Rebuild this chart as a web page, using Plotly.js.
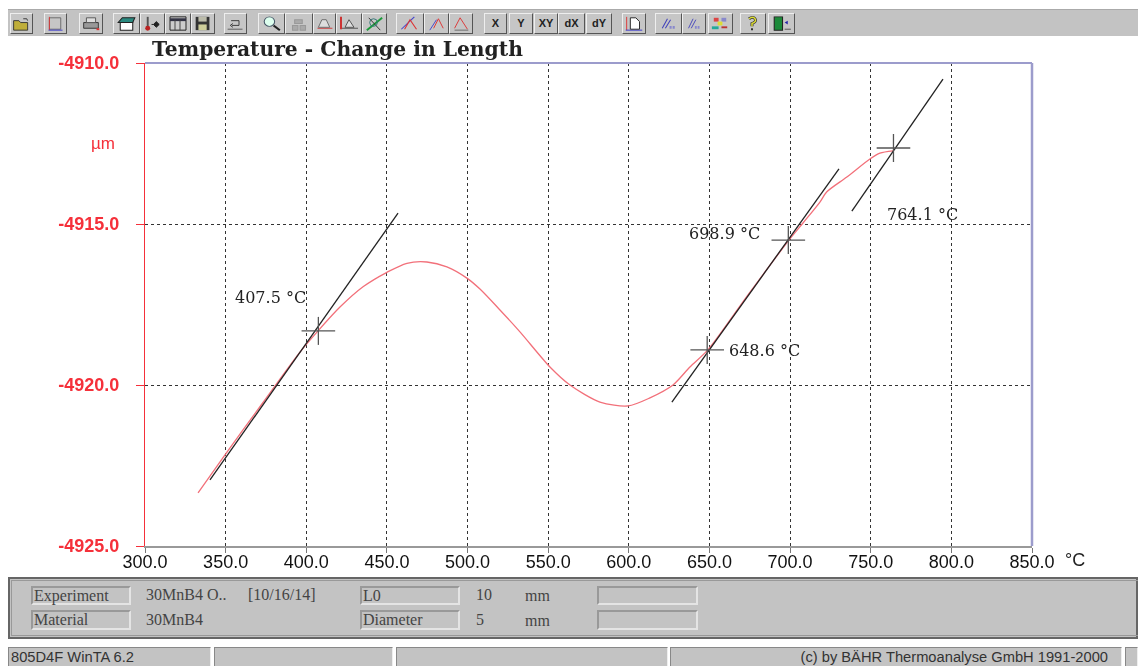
<!DOCTYPE html>
<html><head><meta charset="utf-8">
<script src="https://cdn.plot.ly/plotly-3.0.1.min.js"></script>
<style>
html,body{margin:0;padding:0;background:#fff;width:1138px;height:666px;overflow:hidden}
#wrap{position:absolute;left:0;top:0;width:1138px;height:666px;filter:blur(.6px)}
.abs{position:absolute;box-sizing:border-box}
.btn{position:absolute;top:13px;height:21px;box-sizing:border-box;background:#c6c6c6;border:1px solid;border-color:#eee #555 #555 #eee}
.btn svg{position:absolute;left:0;top:0;width:100%;height:100%}
.well{position:absolute;box-sizing:border-box;border:2px solid;border-color:#999 #e4e4e4 #e4e4e4 #999;background:#c3c3c3;font:16px "Liberation Serif";color:#444;line-height:15px;padding-left:1px;white-space:nowrap}
.t{position:absolute;font:16px "Liberation Serif";color:#444;white-space:nowrap}
.cell{position:absolute;top:647px;height:19px;box-sizing:border-box;background:#c3c3c3;border-top:1px solid #888;border-left:1px solid #888;border-right:1px solid #eee;font:14.7px "Liberation Sans";color:#333;white-space:nowrap;line-height:18px}
#plot{position:absolute;left:0;top:0;width:1138px;height:666px}
</style></head><body>
<div id="wrap">
<div class="abs" style="left:8px;top:9px;width:1130px;height:27px;background:#c3c3c3;border-top:1px solid #aaa"></div>
<div id="tools"></div>
<div class="abs" style="left:8px;top:577px;width:1130px;height:62px;background:#c3c3c3;border:2px solid #666"></div>
<div class="abs" style="left:11px;top:580px;width:1127px;height:56px;border:1px solid #999;border-right:none"></div>
<div class="well" style="left:31px;top:586px;width:100px;height:19px">Experiment</div>
<div class="well" style="left:31px;top:610px;width:100px;height:20px">Material</div>
<div class="t" style="left:146px;top:586px">30MnB4 O..</div>
<div class="t" style="left:248px;top:586px">[10/16/14]</div>
<div class="t" style="left:146px;top:611px">30MnB4</div>
<div class="well" style="left:360px;top:586px;width:100px;height:19px">L0</div>
<div class="well" style="left:360px;top:610px;width:100px;height:20px">Diameter</div>
<div class="t" style="left:476px;top:586px">10</div>
<div class="t" style="left:476px;top:611px">5</div>
<div class="t" style="left:525px;top:587px">mm</div>
<div class="t" style="left:525px;top:612px">mm</div>
<div class="well" style="left:597px;top:586px;width:101px;height:19px"></div>
<div class="well" style="left:597px;top:610px;width:101px;height:20px"></div>
<div class="cell" style="left:8px;width:203px;padding-left:2px">805D4F WinTA 6.2</div>
<div class="cell" style="left:214px;width:179px"></div>
<div class="cell" style="left:396px;width:272px"></div>
<div class="cell" style="left:670px;width:452px;text-align:right;padding-right:13px">(c) by BÄHR Thermoanalyse GmbH 1991-2000</div>
<div class="cell" style="left:1125px;width:13px"></div>
<div id="plot"></div>
</div>
<script>
// ---- chart data ----
var curveT = [332.9,349.6,372.5,396.1,407.3,420.9,435.2,450.0,462.4,474.8,487.2,499.6,507.7,520.1,532.5,551.1,563.5,582.1,599.5,613.1,627.4,637.9,649.0,673.9,699.3,708.0,718.5,722.8,735.2,749.5,755.7,763.9];
var curveL = [-4923.35,-4922.17,-4920.59,-4918.98,-4918.32,-4917.58,-4916.95,-4916.5,-4916.22,-4916.18,-4916.33,-4916.68,-4917.02,-4917.67,-4918.35,-4919.44,-4920.0,-4920.53,-4920.65,-4920.40,-4920.0,-4919.44,-4918.91,-4917.2,-4915.5,-4914.97,-4914.32,-4914.0,-4913.54,-4912.98,-4912.8,-4912.73];
var tangent1T = [340.3,456.9], tangent1L = [-4922.95,-4914.66];
var tangent2T = [626.7,730.3], tangent2L = [-4920.53,-4913.29];
var tangent3T = [738.3,794.8], tangent3L = [-4914.6,-4910.5];
var onsetT = [407.5,648.6,698.9,764.1];
var onsetL = [-4918.32,-4918.91,-4915.5,-4912.64];
var labelT = [378,684.4,659.6,781.8];
var labelL = [-4917.27,-4918.94,-4915.28,-4914.69];
var labelText = ['407.5 °C','648.6 °C','698.9 °C','764.1 °C'];
var xTicks = [300,350,400,450,500,550,600,650,700,750,800,850];
var xTickText = ['300.0','350.0','400.0','450.0','500.0','550.0','600.0','650.0','700.0','750.0','800.0','850.0'];
var yTicks = [-4910,-4915,-4920,-4925];
var yTickText = ['-4910.0','-4915.0','-4920.0','-4925.0'];

// ---- toolbar buttons ----
var I = {
 open:'<path d="M3 7h6l2 2h8v8H3z" fill="#bfae3a" stroke="#333"/><path d="M14 5l4 0 1 2" fill="none" stroke="#333"/>',
 sel:'<path d="M5 4h13v12H5z" fill="none" stroke="#666"/><path d="M5 3v14" stroke="#d33"/><path d="M4 17h16" stroke="#33c"/>',
 print:'<path d="M4 9h16v6H4z" fill="#999" stroke="#333"/><path d="M7 4h10v5H7z" fill="#ddd" stroke="#555"/><path d="M18 16h3" stroke="#d33" stroke-width="2"/>',
 home:'<path d="M6 9h12v8H6z" fill="#fff" stroke="#222"/><path d="M4 9l4-5h12l-2 5z" fill="#2a8a80" stroke="#222"/>',
 therm:'<path d="M7 3v10" stroke="#555" stroke-width="2"/><circle cx="7" cy="15" r="2.6" fill="#b22"/><path d="M11 11h2M16 8l3 3-3 3-3-3z" stroke="#222" fill="#222"/>',
 cal:'<path d="M4 3h16v14H4z" fill="#ccc" stroke="#222"/><path d="M4 6h16" stroke="#334" stroke-width="3"/><path d="M9 6v11M14 6v11" stroke="#444"/>',
 save:'<path d="M4 3h15v14H4z" fill="#333"/><path d="M7 3h9v5H7z" fill="#bba"/><path d="M7 11h9v6H7z" fill="#cc9"/>',
 undo:'<path d="M7 7h9v5H8" fill="none" stroke="#333"/><path d="M9 10l-3 2 3 2" fill="none" stroke="#333"/><path d="M3 16h17" stroke="#555"/>',
 zoom:'<circle cx="10" cy="8" r="5" fill="#dfe" stroke="#456"/><path d="M14 12l6 5" stroke="#222" stroke-width="2"/>',
 grey:'<path d="M8 6h7v4H8zM6 12h5v5H6zM13 12h5v5h-5z" fill="#aaa" stroke="#999"/>',
 peak:'<path d="M4 15h17" stroke="#c33"/><path d="M5 14l4-8h5l4 8z" fill="#ddd" stroke="#666"/>',
 peak2:'<path d="M4 3v13" stroke="#c33" stroke-width="2"/><path d="M5 15h16" stroke="#555"/><path d="M8 14l4-8 5 8z" fill="#ddd" stroke="#555"/>',
 cross:'<path d="M4 17L20 4" stroke="#1a9a3a" stroke-width="2"/><path d="M6 4l12 13" stroke="#333"/><circle cx="11" cy="9" r="4" fill="none" stroke="#377"/>',
 tan1:'<path d="M4 16L16 3" stroke="#44c"/><path d="M7 16l5-10 6 10" fill="none" stroke="#d33"/>',
 tan2:'<path d="M5 17L12 6" stroke="#44c"/><path d="M9 15l5-10 5 10" fill="none" stroke="#d33"/>',
 tan3:'<path d="M5 15l6-11 8 12" fill="none" stroke="#d33"/><path d="M5 17h15" stroke="#666"/>',
 page:'<path d="M4 3v14" stroke="#d33"/><path d="M3 17h18" stroke="#33c"/><path d="M8 4h6l4 4v8H8z" fill="#fff" stroke="#222"/>',
 fit:'<path d="M6 15L11 5M9 15L14 6" stroke="#44b"/><path d="M13 14h6" stroke="#88c" stroke-width="3" stroke-dasharray="2 1"/>',
 color:'<path d="M5 4h5v4H5z" fill="#d44"/><path d="M13 4h5v4h-5z" fill="#88c"/><path d="M9 8h5v4H9z" fill="#dd3"/><path d="M3 13h7v3H3z" fill="#2a9"/><path d="M13 14h6" stroke="#b33" stroke-width="2"/>',
 help:'<path d="M8 5q4-3 6 0t-3 5v3" fill="none" stroke="#333" stroke-width="3"/><path d="M8 5q4-3 6 0t-3 5v3" fill="none" stroke="#dd3" stroke-width="1.5"/><path d="M11 15v2" stroke="#333" stroke-width="2"/>',
 exit:'<path d="M5 3h8v14H5z" fill="#1c8a3a" stroke="#222"/><path d="M15 9l3-2v4z" fill="#22a"/><path d="M15 16h6" stroke="#555"/>'
};
var btnLeft  = [10,44,79,113,140,165,191,224,258,285,313,336,362,396,424,449,484,509,534,558,586,622,655,682,708,740,768];
var btnRight = [33,67,103,140,165,191,215,247,285,313,336,362,387,424,449,473,507,533,558,585,612,646,682,706,733,766,795];
var btnIcon  = ['open','sel','print','home','therm','cal','save','undo','zoom','grey','peak','peak2','cross','tan1','tan2','tan3','X','Y','XY','dX','dY','page','fit','fit','color','help','exit'];
var h='';
btnLeft.forEach(function(l,i){
  var k=btnIcon[i], w=btnRight[i]-l;
  var inner = I[k] ? '<svg viewBox="0 0 24 20" preserveAspectRatio="none">'+I[k]+'</svg>'
    : '<div style="text-align:center;font:bold 11px \'Liberation Sans\';line-height:19px;color:#222">'+k+'</div>';
  h+='<div class="btn" style="left:'+l+'px;width:'+w+'px">'+inner+'</div>';
});
document.getElementById('tools').innerHTML=h;

// ---- plot ----
var L=145,R=1032,T=63,B=546;
function px(x){return (x-L)/(R-L);} function py(y){return (B-y)/(B-T);}
var red='#f5303a', axisBlue='#9c9ccc', black='#222';
var traces=[
 {x:curveT,y:curveL,mode:'lines',line:{color:'#f2707a',width:1.3,shape:'spline',smoothing:0.8},hoverinfo:'skip'},
 {x:tangent1T,y:tangent1L,mode:'lines',line:{color:black,width:1.3},hoverinfo:'skip'},
 {x:tangent2T,y:tangent2L,mode:'lines',line:{color:black,width:1.3},hoverinfo:'skip'},
 {x:tangent3T,y:tangent3L,mode:'lines',line:{color:black,width:1.3},hoverinfo:'skip'},
 {x:onsetT,y:onsetL,mode:'markers',marker:{symbol:'line-ew',size:24,color:'#555',line:{color:'#555',width:1.3}},hoverinfo:'skip'},
 {x:onsetT,y:onsetL,mode:'markers',marker:{symbol:'line-ns',size:20,color:'#555',line:{color:'#555',width:1.3}},hoverinfo:'skip'}
];
var anns=labelText.map(function(s,i){return {x:labelT[i],y:labelL[i],xref:'x',yref:'y',text:s,showarrow:false,xanchor:'center',yanchor:'middle',font:{family:'DejaVu Serif',size:16,color:'#222'}};});
anns.push({xref:'paper',yref:'paper',x:px(103),y:py(143),text:'µm',showarrow:false,xanchor:'center',yanchor:'middle',font:{family:'Liberation Sans',size:17,color:red}});
anns.push({xref:'paper',yref:'paper',x:px(1075),y:py(560),text:'°C',showarrow:false,xanchor:'center',yanchor:'middle',font:{family:'Liberation Sans',size:18,color:'#222'}});
var layout={
 width:1138,height:666,margin:{l:L,r:1138-R,t:T,b:666-B,pad:0},
 paper_bgcolor:'rgba(0,0,0,0)',plot_bgcolor:'#fff',showlegend:false,
 title:{text:'Temperature - Change in Length',x:152/1138,xanchor:'left',xref:'container',y:1-49/666,yanchor:'middle',font:{family:'DejaVu Serif',size:20.3,weight:700,color:'#222'}},
 xaxis:{range:[300,850],tickmode:'array',tickvals:xTicks,ticktext:xTickText,showgrid:true,gridcolor:'#333',griddash:'dot',gridwidth:1,
   showline:true,linecolor:'#999',linewidth:1.5,ticks:'outside',ticklen:5,tickcolor:'#777',zeroline:false,ticklabelstandoff:-6,
   tickfont:{family:'Liberation Sans',size:18,color:'#111'}},
 yaxis:{range:[-4925,-4910],tickmode:'array',tickvals:yTicks,ticktext:yTickText,showgrid:true,gridcolor:'#333',griddash:'dot',gridwidth:1,
   showline:true,linecolor:red,linewidth:1,ticks:'outside',ticklen:8,tickcolor:red,zeroline:false,ticklabelstandoff:13,
   tickfont:{family:'Liberation Sans',size:18,weight:700,color:red}},
 shapes:[
  {type:'line',xref:'paper',yref:'paper',x0:0,x1:1,y0:1,y1:1,line:{color:axisBlue,width:2}},
  {type:'line',xref:'paper',yref:'paper',x0:1,x1:1,y0:0,y1:1,line:{color:axisBlue,width:2.5}}
 ],
 annotations:anns
};
Plotly.newPlot('plot',traces,layout,{displayModeBar:false,staticPlot:true});
</script>
</body></html>
